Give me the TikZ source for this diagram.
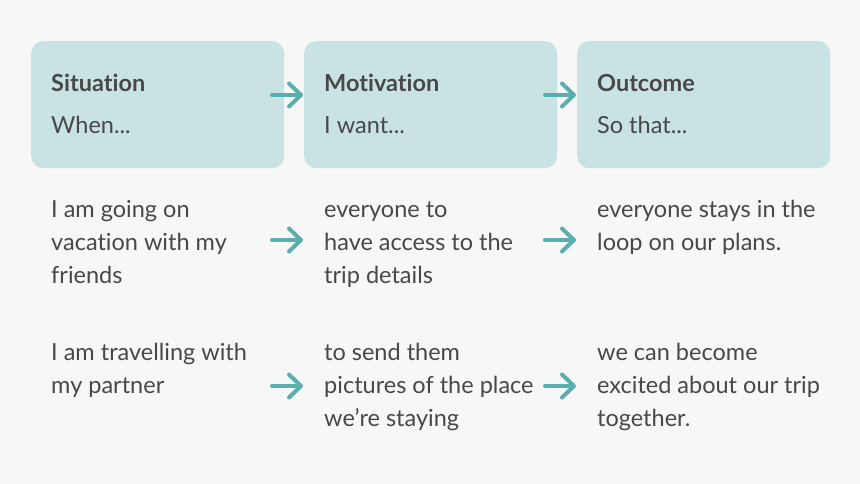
\documentclass[tikz,border=0pt]{standalone}
\usepackage{fontspec}
\setmainfont{Lato}[Ligatures=NoCommon]
\usetikzlibrary{arrows.meta,positioning}
\definecolor{Paper}{HTML}{F7F7F7}
\definecolor{Card}{HTML}{C9E3E4}
\definecolor{Teal}{HTML}{5BAEAE}
\definecolor{Ink}{HTML}{484848}

\begin{document}
\begin{tikzpicture}[x=1pt,y=-1pt,
  card/.style={fill=Card,rounded corners=12pt,minimum width=253pt,minimum height=127pt,anchor=north west,inner sep=0pt},
  head/.style={anchor=base west,inner sep=0pt,text=Ink,font=\fontsize{23.5}{28}\selectfont\bfseries},
  sub/.style={anchor=base west,inner sep=0pt,text=Ink,font=\fontsize{23.5}{28}\selectfont},
  body/.style={anchor=base west,inner sep=0pt,text=Ink,align=left,font=\fontsize{23.5}{32.7}\selectfont},
  flow/.style={draw=Teal,line width=4pt,line cap=round,-{Straight Barb[round,length=12pt,width=23pt]}}]
  \fill[Paper] (0,0) rectangle (860,484);
  % cards
  \node[card] (sit) at (31,41) {};
  \node[card] (mot) at (304,41) {};
  \node[card] (out) at (577,41) {};
  \node[head] (sitH) at (51,92) {Situation};
  \node[head] (motH) at (324,92) {Motivation};
  \node[head] (outH) at (597,92) {Outcome};
  \node[sub] (sitS) at (51,134) {When...};
  \node[sub] (motS) at (324,134) {I want...};
  \node[sub] (outS) at (597,134) {So that...};
  % examples (placed by the baseline of their last line)
  \node[body] (sit1) at (51,283) {I am going on\\vacation with my\\friends};
  \node[body] (mot1) at (324,283) {everyone to\\have access to the\\trip details};
  \node[body] (out1) at (597,250) {everyone stays in the\\loop on our plans.};
  \node[body] (sit2) at (51,393) {I am travelling with\\my partner};
  \node[body] (mot2) at (324,426) {to send them\\pictures of the place\\we’re staying};
  \node[body] (out2) at (597,426) {we can become\\excited about our trip\\together.};
  % arrows
  \coordinate (a1) at (272,95);  \coordinate (b1) at (303,95);
  \coordinate (c1) at (545,95);  \coordinate (d1) at (576,95);
  \coordinate (a2) at (272,240); \coordinate (b2) at (303,240);
  \coordinate (c2) at (545,240); \coordinate (d2) at (576,240);
  \coordinate (a3) at (272,386); \coordinate (b3) at (303,386);
  \coordinate (c3) at (545,386); \coordinate (d3) at (576,386);
  \foreach \r in {1,2,3} {
    \draw[flow] (a\r) -- (b\r);
    \draw[flow] (c\r) -- (d\r);
  }
\end{tikzpicture}
\end{document}
